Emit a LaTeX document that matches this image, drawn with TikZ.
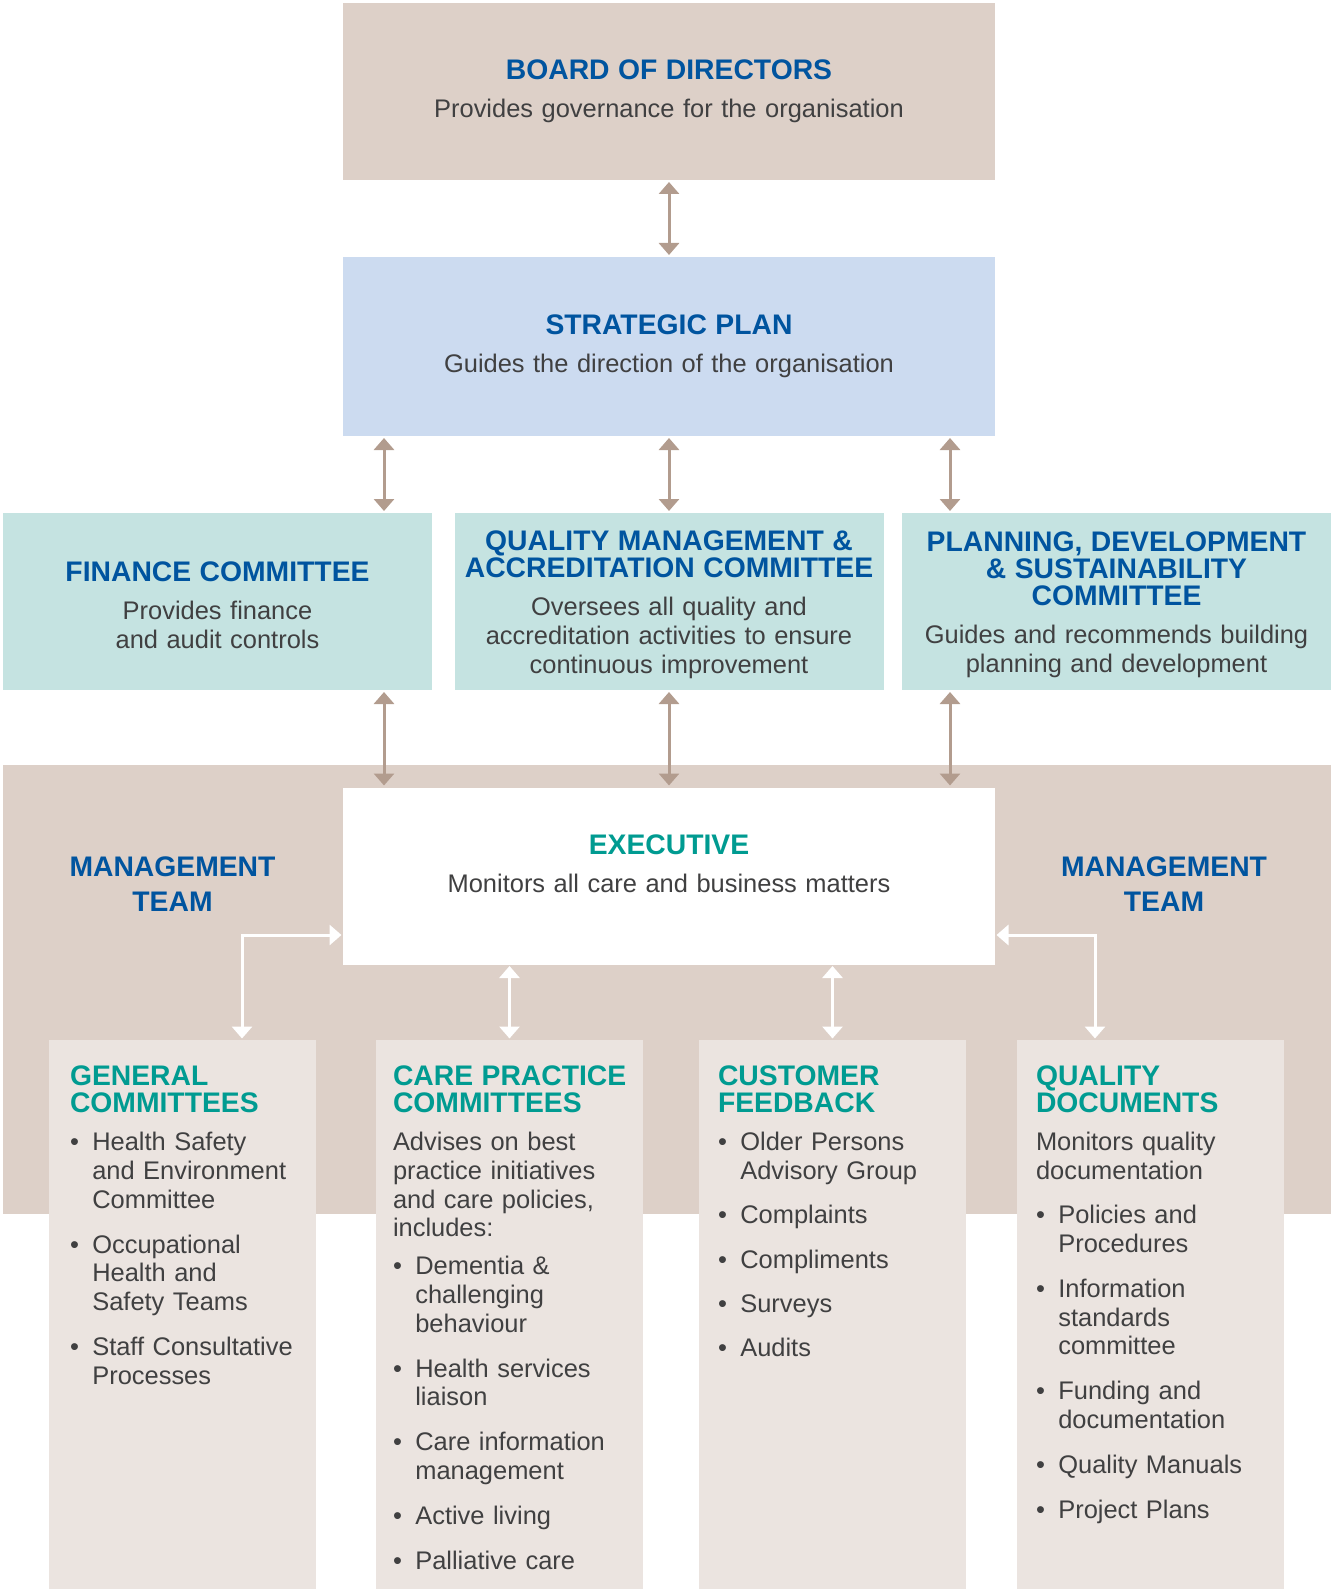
\documentclass[tikz,border=0pt]{standalone}
\usepackage{fontspec}
\setmainfont{Liberation Sans}
\usetikzlibrary{arrows.meta}

\definecolor{boardc}{RGB}{221,208,200}
\definecolor{stratc}{RGB}{204,219,240}
\definecolor{commc}{RGB}{197,227,225}
\definecolor{lowc}{RGB}{235,228,224}
\definecolor{hblue}{RGB}{0,84,159}
\definecolor{hteal}{RGB}{0,155,145}
\definecolor{txtc}{RGB}{64,64,65}
\definecolor{arrowc}{RGB}{178,156,142}

\newcommand\hd{\fontsize{28.3}{26.8}\selectfont\bfseries}
\newcommand\bd{\fontsize{25.45}{28.7}\selectfont}
\newcommand\hstrut{\rule{0pt}{26.5pt}}
\newcommand\bitem[2][16.3pt]{\par\vspace{#1}\hangindent=22.3pt\hangafter=1\noindent\makebox[22.3pt][l]{\textbullet}#2}

\begin{document}
\begin{tikzpicture}[x=1pt,y=-1pt,>={Triangle[width=20pt,length=12pt]},
                    every node/.style={inner sep=0pt,outer sep=0pt}]

  \tikzstyle{mainbox}=[rectangle,minimum width=652pt,minimum height=177pt,text width=640pt,
                       align=center,text=txtc,font=\bd]
  \tikzstyle{commbox}=[rectangle,fill=commc,minimum width=429pt,minimum height=177pt,
                       text width=420pt,align=center,text=txtc,font=\bd]
  \tikzstyle{lowbox}=[rectangle,fill=lowc,minimum width=267pt,minimum height=549pt]
  \tikzstyle{listtext}=[anchor=north west,text width=245pt,align=left,text=txtc,font=\bd]
  \tikzstyle{link}=[<->,draw=arrowc,line width=3pt,shorten <=2pt,shorten >=2pt]
  \tikzstyle{wlink}=[<->,draw=white,line width=3pt,shorten <=1.5pt,shorten >=1.5pt]

  \useasboundingbox (0,0) rectangle (1331,1589);

  % top of the structure
  \node[mainbox,fill=boardc] (board) at (669,91.5)
    {{\hd\color{hblue}BOARD OF DIRECTORS\par}\vspace{9.6pt}Provides governance for the organisation};
  \node[mainbox,fill=stratc,minimum height=179pt] (strat) at (669,346.5)
    {{\hd\color{hblue}STRATEGIC PLAN\par}\vspace{9.6pt}Guides the direction of the organisation};

  \node[commbox] (fin) at (217.5,601.5)
    {{\hd\color{hblue}\hstrut FINANCE COMMITTEE\par}\vspace{9.6pt}Provides finance\\and audit controls};
  \node[commbox] (qm) at (669,601.5)
    {{\hd\color{hblue}\hstrut QUALITY MANAGEMENT \&\\ACCREDITATION COMMITTEE\par}\vspace{9.6pt}%
     Oversees all quality and\\accreditation activities to ensure\\continuous improvement};
  \node[commbox] (plan) at (1116.5,601.5)
    {{\hd\color{hblue}\hstrut PLANNING, DEVELOPMENT\\\& SUSTAINABILITY\\COMMITTEE\par}\vspace{9.6pt}%
     Guides and recommends building\\planning and development};

  % management band
  \node[rectangle,fill=boardc,minimum width=1328pt,minimum height=449pt] (mgmt) at (667,989.5) {};
  \node[mainbox,fill=white,minimum height=177pt] (exec) at (669,876) {};
  \node[text width=640pt,align=center,text=txtc,font=\bd] (execT) at ([yshift=12pt]exec.center)
    {{\hd\color{hteal}EXECUTIVE\par}\vspace{9pt}Monitors all care and business matters};

  \node[text width=260pt,align=center,text=hblue,font={\fontsize{28.3}{35}\selectfont\bfseries}]
    (mgL) at (172.5,884.5) {MANAGEMENT\\TEAM};
  \node[text width=260pt,align=center,text=hblue,font={\fontsize{28.3}{35}\selectfont\bfseries}]
    (mgR) at (1164,884.5) {MANAGEMENT\\TEAM};

  % lower boxes
  \node[lowbox] (gen) at (182.5,1314.5) {};
  \node[lowbox] (care) at (509.5,1314.5) {};
  \node[lowbox] (cust) at (832.5,1314.5) {};
  \node[lowbox] (qdoc) at (1150.5,1314.5) {};

  \node[listtext] (genT) at ([xshift=21pt,yshift=-26pt]gen.north west)
    {{\hd\color{hteal}GENERAL\\COMMITTEES\par}%
     \bitem[9.6pt]{Health Safety\newline and Environment\newline Committee}%
     \bitem{Occupational\newline Health and\newline Safety Teams}%
     \bitem{Staff Consultative\newline Processes}\par};

  \node[listtext] (careT) at ([xshift=17pt,yshift=-26pt]care.north west)
    {{\hd\color{hteal}CARE PRACTICE\\COMMITTEES\par}\vspace{9.6pt}%
     \noindent Advises on best\newline practice initiatives\newline and care policies,\newline includes:%
     \bitem[9pt]{Dementia \&\newline challenging\newline behaviour}%
     \bitem{Health services\newline liaison}%
     \bitem{Care information\newline management}%
     \bitem{Active living}%
     \bitem{Palliative care}\par};

  \node[listtext] (custT) at ([xshift=19pt,yshift=-26pt]cust.north west)
    {{\hd\color{hteal}CUSTOMER\\FEEDBACK\par}%
     \bitem[9.6pt]{Older Persons\newline Advisory Group}%
     \bitem[15.6pt]{Complaints}%
     \bitem[15.6pt]{Compliments}%
     \bitem[15.6pt]{Surveys}%
     \bitem[15.6pt]{Audits}\par};

  \node[listtext] (qdocT) at ([xshift=19pt,yshift=-26pt]qdoc.north west)
    {{\hd\color{hteal}QUALITY\\DOCUMENTS\par}\vspace{9.6pt}%
     \noindent Monitors quality\newline documentation%
     \bitem[15.6pt]{Policies and\newline Procedures}%
     \bitem{Information\newline standards\newline committee}%
     \bitem{Funding and\newline documentation}%
     \bitem{Quality Manuals}%
     \bitem{Project Plans}\par};

  % connectors
  \coordinate (aL) at ([xshift=41pt]strat.south west);
  \coordinate (aR) at ([xshift=-45pt]strat.south east);
  \coordinate (wL) at (242,935);
  \coordinate (wR) at (1095,935);

  \path
  (board) edge[link] (strat)
  (aL) edge[link] (aL |- fin.north)
  (strat) edge[link] (qm)
  (aR) edge[link] (aR |- plan.north)
  ;

  \path
  (aL |- fin.south) edge[link] (aL |- exec.north)
  (qm) edge[link] (exec)
  (aR |- plan.south) edge[link] (aR |- exec.north)
  ;

  \draw[wlink] (wL |- gen.north) |- (exec.west |- wL);
  \draw[wlink] (wR |- qdoc.north) |- (exec.east |- wR);
  \path
  (care.north |- exec.south) edge[wlink] (care.north)
  (cust.north |- exec.south) edge[wlink] (cust.north)
  ;

\end{tikzpicture}
\end{document}
